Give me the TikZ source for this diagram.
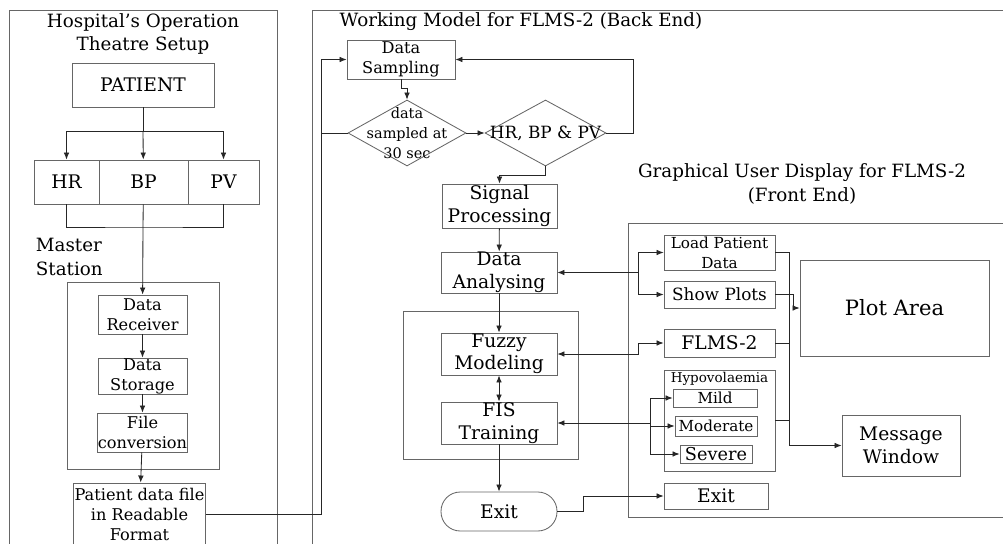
\documentclass[tikz,border=0pt]{standalone}
\usepackage{fontspec}
\setmainfont{DejaVu Serif}
\usetikzlibrary{shapes.geometric,arrows.meta}

\begin{document}
\begin{tikzpicture}[x=0.025cm, y=-0.025cm,
	sz/.style 2 args={minimum width=#1*0.025cm, minimum height=#2*0.025cm},
	box/.style={draw=black!60, line width=0.6pt, inner sep=0pt, align=center},
	decision/.style={diamond, draw=black!60, line width=0.6pt, inner sep=0pt},
	panel/.style={draw=black!60, line width=0.6pt},
	link/.style={draw=black!85, line width=0.6pt},
	head/.style={font=\fontsize{13}{16.5}\selectfont},
	big/.style={font=\fontsize{13.3}{16}\selectfont},
	mid/.style={font=\fontsize{11.5}{14.2}\selectfont},
	small/.style={font=\fontsize{10.8}{14}\selectfont},
	tiny/.style={font=\fontsize{9.6}{12}\selectfont},
	>={Latex[length=5pt,width=4pt]}]
		\clip (0,0) rectangle (1003,544);
		\draw[panel] (9,10) rectangle (277,560);
		\draw[panel] (312,10) rectangle (1010,560);
		\draw[panel] (628,223) rectangle (1010,517);
		\draw[panel] (67,282) rectangle (219,469);
		\draw[panel] (403,311) rectangle (578,459);
		\node[head, align=center] (ottitle) at (143,34) {Hospital's Operation\\Theatre Setup};
		\node[head, align=left, anchor=west] (mstitle) at (31,257) {Master\\Station};
		\node[head] (betitle) at (521,22) {Working Model for FLMS-2 (Back End)};
		\node[head, align=center] (fetitle) at (802,184) {Graphical User Display for FLMS-2\\(Front End)};
		\node[box, big, sz={142}{44}] (patient) at (143,85) {PATIENT};
		\node[box, big, sz={65}{44}] (hr) at (66.5,182) {HR};
		\node[box, big, sz={89}{44}] (bp) at (143.5,182) {BP};
		\node[box, big, sz={71}{44}] (pv) at (223.5,182) {PV};
		\node[box, mid, sz={89}{39}] (recv) at (142.5,314.5) {Data\\Receiver};
		\node[box, mid, sz={89}{36}] (store) at (142.5,376) {Data\\Storage};
		\node[box, mid, sz={89}{39}] (conv) at (142.5,432.5) {File\\conversion};
		\node[box, mid, sz={132}{62}] (pfile) at (139.5,514) {Patient data file\\in Readable\\Format};
		\node[box, mid, sz={108}{39}] (sampling) at (401,59.5) {Data\\Sampling};
		\node[decision, sz={118}{66}, label={[font=\fontsize{10.3}{14}\selectfont, align=center]center:{data\\sampled at\\30 sec}}] (rate) at (407,133) {};
		\node[decision, sz={121}{66}, label={[font=\fontsize{12}{14}\selectfont]center:{HR, BP \& PV}}] (signals) at (545.5,133) {};
		\node[box, big, sz={115}{44}] (sigproc) at (499.5,206) {Signal\\Processing};
		\node[box, big, sz={116}{41}] (analysing) at (499,272.5) {Data\\Analysing};
		\node[box, big, sz={116}{42}] (fuzzy) at (499,354) {Fuzzy\\Modeling};
		\node[box, big, sz={116}{42}] (fis) at (499,423) {FIS\\Training};
		\node[box, big, sz={116}{39}, rounded corners=0.48cm] (exitb) at (499,511.5) {Exit};
		\node[box, small, sz={111}{35}] (lpd) at (719.5,252.5) {Load Patient\\Data};
		\node[box, font=\fontsize{12}{14}\selectfont, sz={111}{27}] (plots) at (719.5,294.5) {Show Plots};
		\node[box, big, sz={111}{28}] (flms) at (719.5,343) {FLMS-2};
		\node[box, sz={111}{101}, label={[tiny, anchor=north, inner sep=2pt]north:Hypovolaemia}] (hypo) at (719.5,420.5) {};
		\node[box, small, sz={84}{18}] (mild) at (715,398) {Mild};
		\node[box, small, sz={82}{20}] (moderate) at (716,426) {Moderate};
		\node[box, font=\fontsize{12.6}{14}\selectfont, sz={72}{18}] (severe) at (716,454) {Severe};
		\node[box, big, sz={104}{26}] (exitf) at (716,496) {Exit};
		\node[box, font=\fontsize{15}{17}\selectfont, sz={189}{96}] (plotarea) at (894.5,308) {Plot Area};
		\node[box, big, sz={118}{61}] (msg) at (901,445.5) {Message\\Window};
		\coordinate (split) at (143,131);
		\coordinate (merge) at (143,227);
		\coordinate (fb) at (321,59.5);
		\coordinate (ja) at (638,272.5);
		\coordinate (jf) at (638,354);
		\coordinate (jh) at (650,423);
		\coordinate (bus) at (789,445.5);
		\draw[link] (patient) -- (split);
		\draw[link, ->] (split) -| (hr.north);
		\draw[link, ->] (split) -- (bp);
		\draw[link, ->] (split) -| (pv.north);
		\draw[link] (hr.south) |- (merge) -| (pv.south);
		\draw[link] (bp) -- (merge);
		\draw[link, ->] (merge) -- (recv);
		\draw[link, ->] (recv) -- (store);
		\draw[link, ->] (store) -- (conv);
		\draw[link, ->] (conv) -- (pfile);
		\draw[link, ->] (pfile.east) -| (fb) -- (sampling.west);
		\draw[link] (rate.west) -- (rate.west -| fb);
		\draw[link, ->] (sampling.south) -- ++(0,9) -| (rate.north);
		\draw[link, ->] (rate.east) -- (signals.west);
		\draw[link, ->] (signals.east) -- ++(27,0) |- (sampling.east);
		\draw[link, ->] (signals.south) -- ++(0,9) -| (sigproc.north);
		\draw[link, ->] (sigproc) -- (analysing);
		\draw[link, ->] (analysing) -- (fuzzy);
		\draw[link, <->] (fuzzy) -- (fis);
		\draw[link, ->] (fis) -- (exitb);
		\draw[link, ->] (ja) -- (analysing.east);
		\draw[link, ->] (ja) |- (lpd.west);
		\draw[link, ->] (ja) |- (plots.west);
		\draw[link, <->] (fuzzy.east) -- (jf) |- (flms.west);
		\draw[link, ->] (jh) -- (fis.east);
		\foreach \lvl in {mild,moderate,severe}{
		  \draw[link, ->] (jh) |- (\lvl.west);
		}
		\draw[link, ->] (exitb.east) -- ++(26,0) |- (exitf.west);
		\draw[link, ->] (plots.east) -- ++(18,0) |- (plotarea.west);
		\draw[link, ->] (lpd.east) -| (bus) -- (msg.west);
		\draw[link] (flms.east) -- (flms.east -| bus);
		\draw[link] (hypo.east) -- (hypo.east -| bus);
	\end{tikzpicture}
\end{document}
